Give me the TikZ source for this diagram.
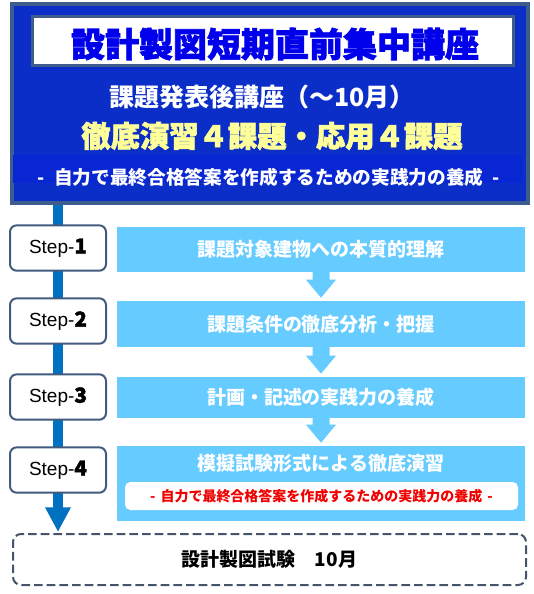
\documentclass[tikz,border=0pt]{standalone}
\usepackage{fontspec}
\setmainfont{Liberation Sans}
\newfontfamily\cjk{Noto Sans CJK JP}
\newfontfamily\cjkh{Noto Sans CJK JP}[BoldFeatures={FakeBold=2}]
\usetikzlibrary{arrows.meta,calc}
\definecolor{mainblue}{RGB}{12,46,200}
\definecolor{bandblue}{RGB}{8,38,210}
\definecolor{mainborder}{RGB}{62,92,140}
\definecolor{titleblue}{RGB}{0,0,235}
\definecolor{paleyellow}{RGB}{255,255,153}
\definecolor{lb}{RGB}{102,204,255}
\definecolor{lineblue}{RGB}{0,112,192}
\definecolor{stepborder}{RGB}{65,90,125}
\definecolor{dashborder}{RGB}{68,84,106}
\definecolor{redtext}{RGB}{240,0,0}
\newcommand\blockarrow[2]{%
  \fill[lb] ($(#1.south)+(-8.5,-1)$) -- ($(#1.south)+(8.5,-1)$)
    -- ($(#2.north)+(8.5,-21)$) -- ($(#2.north)+(15,-21)$)
    -- ($(#2.north)+(0,-3)$) -- ($(#2.north)+(-15,-21)$)
    -- ($(#2.north)+(-8.5,-21)$) -- cycle;}
\newcommand\stepnum[1]{{\cjkh\bfseries\fontsize{15.5pt}{16pt}\selectfont #1}}
\begin{document}
\begin{tikzpicture}[x=0.75pt,y=-0.75pt,
  txt/.style={inner sep=0pt, align=center},
  stepbox/.style={draw=stepborder, line width=1.5pt, fill=white, rounded corners=5pt,
    minimum width=72pt, minimum height=34pt, inner sep=0pt,
    font=\fontsize{14.25pt}{16pt}\selectfont},
  lbbox/.style={fill=lb, minimum width=306pt, inner sep=0pt,
    text=white, font=\cjk\bfseries\fontsize{14.25pt}{16pt}\selectfont},
]
\useasboundingbox (0,0) rectangle (534,594);
% header
\node[draw=mainborder, line width=3pt, fill=mainblue, minimum width=387pt,
  minimum height=149.25pt, inner sep=0pt] (top) at (270,103.5) {};
\node[fill=bandblue, minimum width=381.75pt, minimum height=21pt, inner sep=0pt]
  (band) at (267.5,169) {};
\node[draw=mainborder, line width=2.25pt, fill=white, minimum width=360.75pt,
  minimum height=36.75pt, inner sep=0pt] (titlebox) at (273,41) {};
\node[txt, text=titleblue, font=\cjkh\bfseries\fontsize{25.5pt}{28pt}\selectfont]
  (title) at (275,44) {設計製図短期直前集中講座};
\node[txt, text=white, font=\cjk\bfseries\fontsize{18.75pt}{21pt}\selectfont]
  (sub1) at (262,97) {課題発表後講座（～10月）};
\node[txt, text=paleyellow, font=\cjkh\bfseries\fontsize{22pt}{24pt}\selectfont]
  (sub2) at (272,136) {徹底演習４課題・応用４課題};
\node[txt, text=white, font=\cjk\bfseries\fontsize{14pt}{16pt}\selectfont]
  (sub3) at (269,177) {-\hspace{0.5em}自力で最終合格答案を作成するための実践力の養成\hspace{0.5em}-};
% final dashed box
\node[draw=dashborder, line width=1.5pt, dash pattern=on 6.5pt off 3pt,
  rounded corners=6pt, minimum width=384.75pt, minimum height=38.25pt,
  inner sep=0pt, font=\cjk\bfseries\fontsize{14.25pt}{16pt}\selectfont]
  (fin) at (269.5,559.5) {設計製図試験　10月};
% step line
\coordinate (s1c) at (58,248);
\draw[lineblue, line width=7.5pt, -{Triangle[width=18pt,length=18.5pt]}]
  (top.south -| s1c) -- ($(fin.north -| s1c)+(0,-1)$);
\node[stepbox] (s1) at (58,248) {Step-\stepnum{1}};
\node[stepbox] (s2) at (58,321) {Step-\stepnum{2}};
\node[stepbox] (s3) at (58,397) {Step-\stepnum{3}};
\node[stepbox] (s4) at (58,470) {Step-\stepnum{4}};
% light blue boxes
\node[lbbox, minimum height=33.75pt] (b1) at (321,249.5) {課題対象建物への本質的理解};
\node[lbbox, minimum height=34.5pt] (b2) at (321,324) {課題条件の徹底分析・把握};
\node[lbbox, minimum height=30.75pt] (b3) at (321,397.5) {計画・記述の実践力の養成};
\node[lbbox, minimum height=56.25pt] (b4) at (321,483.5) {};
\node[txt, text=white, font=\cjk\bfseries\fontsize{14.25pt}{16pt}\selectfont]
  (b4t) at (321,463) {模擬試験形式による徹底演習};
\node[fill=white, rounded corners=4pt, minimum width=294.75pt, minimum height=21pt,
  inner sep=0pt, text=redtext, font=\cjk\bfseries\fontsize{10.5pt}{12pt}\selectfont]
  (b4r) at (321.5,496) {-\hspace{0.35em}自力で最終合格答案を作成するための実践力の養成\hspace{0.35em}-};
\blockarrow{b1}{b2}
\blockarrow{b2}{b3}
\blockarrow{b3}{b4}
\end{tikzpicture}
\end{document}
